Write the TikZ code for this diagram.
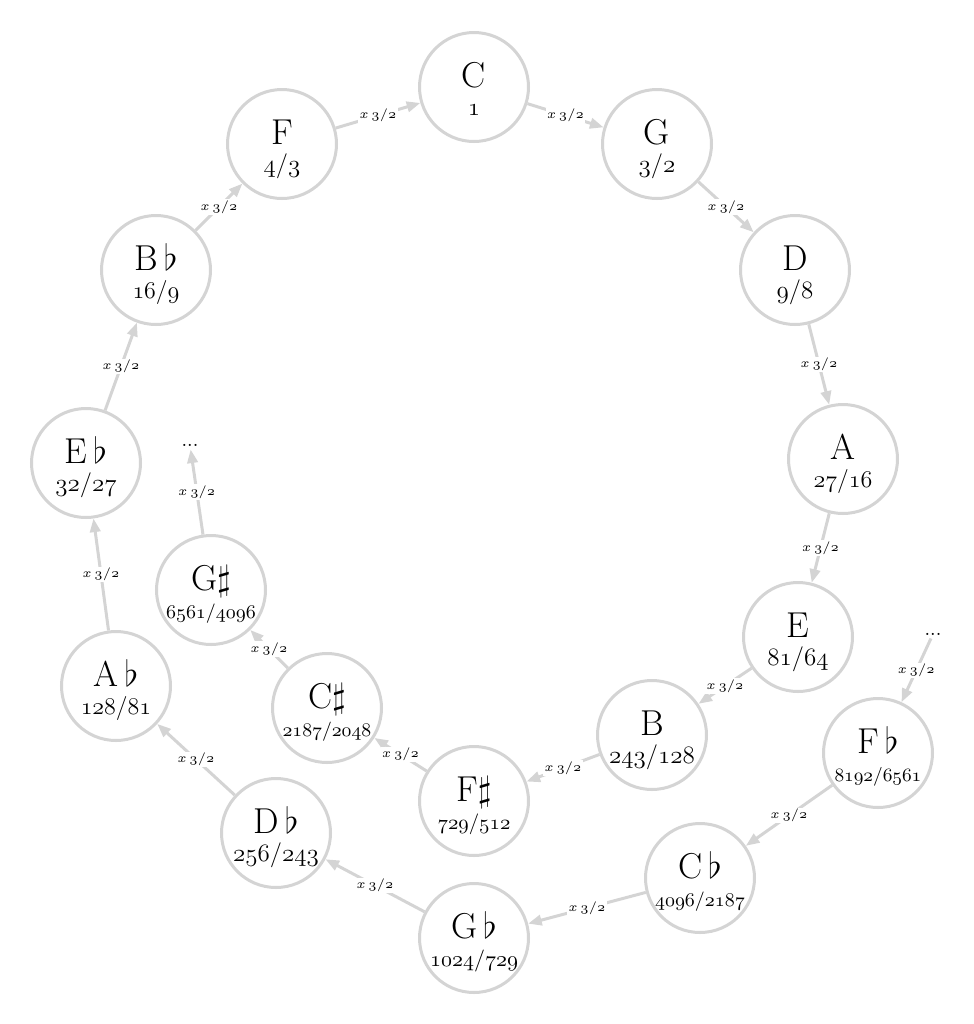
\RequirePackage{fix-cm}
\documentclass[tikz,border=0pt]{standalone}
\usetikzlibrary{arrows.meta}
\definecolor{ring}{RGB}{212,212,212}
\tikzset{
  notec/.style={circle, draw=ring, line width=1.5pt, minimum size=54.5pt, inner sep=0pt, fill=white},
  notel/.style={anchor=base, inner sep=0pt, font=\fontsize{18}{18}\selectfont},
  edge/.style={draw=ring, line width=1.5pt, -{Triangle[length=6.8pt,width=5.2pt]}},
  elabel/.style={fill=white, inner sep=0.6pt, font=\fontsize{6.5}{6.5}\selectfont},
  dotsn/.style={inner sep=1.5pt, font=\fontsize{10}{10}\selectfont}
}
\newcommand\notecircle[6]{%
  \node[notec] (#1) at (#2,#3) {};
  \node[notel] (#1-l) at (#1.center) {#4};
  \node[anchor=base, inner sep=0pt, font=\fontsize{#6}{#6}\selectfont] (#1-n) at ([yshift=-14pt]#1.center) {$\mathnormal{#5}$};
}
\newcommand\xlab{$x\kern0.22em\mathnormal{3/2}$}
\begin{document}
\begin{tikzpicture}[x=0.5pt, y=-0.5pt]
\useasboundingbox (0,0) rectangle (974,1024);
\notecircle{C}{474}{87}{C}{1}{12.5}
\notecircle{G}{657}{144}{G}{3/2}{12.5}
\notecircle{D}{795}{270}{D}{9/8}{12.5}
\notecircle{A}{843}{459}{A}{27/16}{12}
\notecircle{E}{798}{637}{E}{81/64}{12.5}
\notecircle{B}{652}{735}{B}{243/128}{12.5}
\notecircle{Fs}{474}{801}{F$\sharp$}{729/512}{10.4}
\notecircle{Cs}{327}{708}{C$\sharp$}{2187/2048}{9.6}
\notecircle{Gs}{211}{590}{G$\sharp$}{6561/4096}{9.7}
\notecircle{F}{282}{144}{F}{4/3}{12.5}
\notecircle{Bb}{156}{270}{B\,$\flat$}{16/9}{12}
\notecircle{Eb}{86}{463}{E\,$\flat$}{32/27}{12.5}
\notecircle{Ab}{116}{686}{A\,$\flat$}{128/81}{12}
\notecircle{Db}{276}{833}{D\,$\flat$}{256/243}{12.5}
\notecircle{Gb}{474}{938}{G\,$\flat$}{1024/729}{11}
\notecircle{Cb}{700}{878}{C\,$\flat$}{4096/2187}{9.7}
\notecircle{Fb}{878}{753}{F\,$\flat$}{8192/6561}{9.4}
\node[dotsn] (dL) at (190,445) {...};
\node[dotsn] (dR) at (933,634) {...};
\draw[edge] (C) -- node[elabel]{\xlab} (G);
\draw[edge] (G) -- node[elabel]{\xlab} (D);
\draw[edge] (D) -- node[elabel]{\xlab} (A);
\draw[edge] (A) -- node[elabel]{\xlab} (E);
\draw[edge] (E) -- node[elabel]{\xlab} (B);
\draw[edge] (B) -- node[elabel]{\xlab} (Fs);
\draw[edge] (Fs) -- node[elabel]{\xlab} (Cs);
\draw[edge] (Cs) -- node[elabel]{\xlab} (Gs);
\draw[edge] (Gs) -- node[elabel]{\xlab} (dL);
\draw[edge] (dR) -- node[elabel]{\xlab} (Fb);
\draw[edge] (Fb) -- node[elabel]{\xlab} (Cb);
\draw[edge] (Cb) -- node[elabel]{\xlab} (Gb);
\draw[edge] (Gb) -- node[elabel]{\xlab} (Db);
\draw[edge] (Db) -- node[elabel]{\xlab} (Ab);
\draw[edge] (Ab) -- node[elabel]{\xlab} (Eb);
\draw[edge] (Eb) -- node[elabel]{\xlab} (Bb);
\draw[edge] (Bb) -- node[elabel]{\xlab} (F);
\draw[edge] (F) -- node[elabel]{\xlab} (C);
\end{tikzpicture}
\end{document}
